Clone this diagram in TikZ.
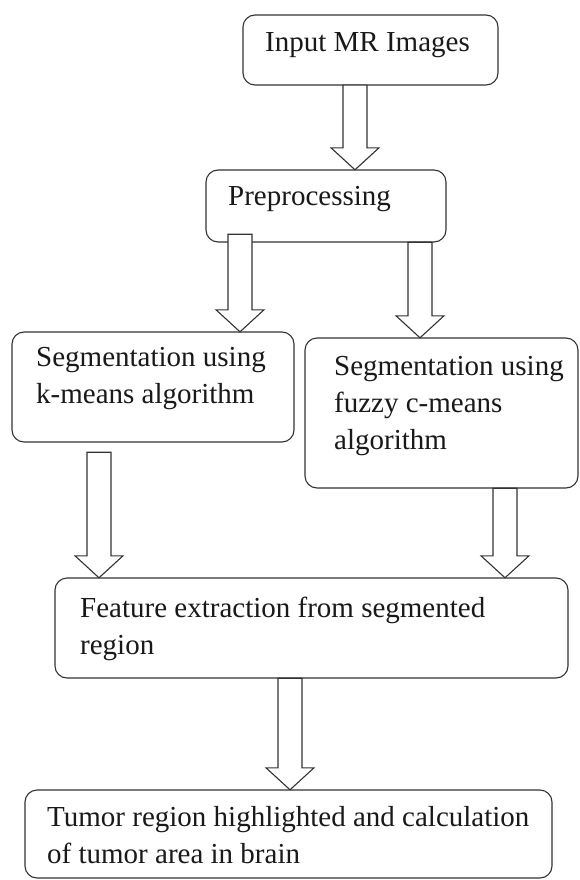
\documentclass[tikz,border=0pt]{standalone}
\usepackage{fontspec}
\setmainfont{Liberation Serif}
\usetikzlibrary{calc}

\tikzset{
  stage/.style={draw=black!80, line width=1.1pt, rounded corners=12pt, fill=white},
  label/.style={inner sep=0pt, anchor=base west, align=left,
    font=\fontsize{29}{37}\selectfont, text=black!90},
  hollow/.style={draw=black!80, line width=1.1pt, fill=white, line join=miter}
}

% hollow block arrow: #1 start point (top of shaft), #2 tip point
\newcommand\blockarrow[2]{%
  \draw[hollow]
    ($(#1)+(-12,0)$) -- ($(#2)+(-12,-22)$) -- ($(#2)+(-24,-22)$) -- (#2)
    -- ($(#2)+(24,-22)$) -- ($(#2)+(12,-22)$) -- ($(#1)+(12,0)$) -- cycle;
}

\begin{document}
\begin{tikzpicture}[x=1pt, y=-1pt]
  \useasboundingbox (0,0) rectangle (579,880);

  % stages, drawn as boxes spanning their corners
  \path[stage] (243,15) rectangle (498,85);
  \node[inner sep=0] (b1) at (370.5,50) [minimum width=255pt, minimum height=70pt] {};
  \path[stage] (206,170) rectangle (446,242);
  \node[inner sep=0] (b2) at (326,206) [minimum width=240pt, minimum height=72pt] {};
  \path[stage] (12,332) rectangle (294,442);
  \node[inner sep=0] (b3) at (153,387) [minimum width=282pt, minimum height=110pt] {};
  \path[stage] (305,338) rectangle (578,488);
  \node[inner sep=0] (b4) at (441.5,413) [minimum width=273pt, minimum height=150pt] {};
  \path[stage] (55,578) rectangle (568,678);
  \node[inner sep=0] (b5) at (311.5,628) [minimum width=513pt, minimum height=100pt] {};
  \path[stage] (25,790) rectangle (552,878);
  \node[inner sep=0] (b6) at (288.5,834) [minimum width=527pt, minimum height=88pt] {};

  % flow arrows
  \blockarrow{355,0 |- b1.south}{355,0 |- b2.north}
  \blockarrow{$(240,0 |- b2.south)+(0,-8)$}{240,0 |- b3.north}
  \blockarrow{420,0 |- b2.south}{420,0 |- b4.north}
  \blockarrow{$(99,0 |- b3.south)+(0,10)$}{99,0 |- b5.north}
  \blockarrow{505,0 |- b4.south}{505,0 |- b5.north}
  \blockarrow{290,0 |- b5.south}{290,0 |- b6.north}

  % texts (anchored on the baseline of their last line)
  \node[label] (t1) at (265,52) {Input MR Images};
  \node[label] (t2) at (228,205) {Preprocessing};
  \node[label] (t3) at (36,403) {Segmentation using\\k-means algorithm};
  \node[label] (t4) at (334,449) {Segmentation using\\fuzzy c-means\\algorithm};
  \node[label] (t5) at (80,654) {Feature extraction from segmented\\region};
  \node[label] (t6) at (47,863) {Tumor region highlighted and calculation\\of tumor area in brain};
\end{tikzpicture}
\end{document}
